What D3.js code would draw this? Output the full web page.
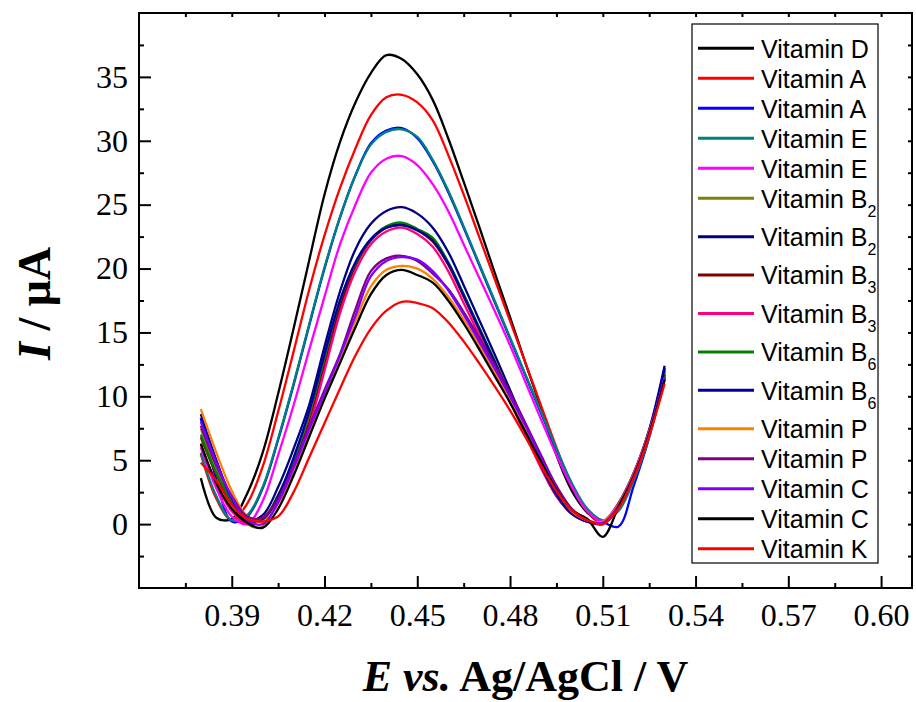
<!DOCTYPE html>
<html>
<head>
<meta charset="utf-8">
<script src="https://cdn.jsdelivr.net/npm/d3@7"></script>
<style>
  html, body { margin: 0; padding: 0; background: #fff; }
  svg { display: block; }
</style>
</head>
<body>
<div id="chart"></div>
<script>
// Potential axis (V vs. Ag/AgCl) sampled every 5 mV
const potentials = [0.380,0.385,0.390,0.395,0.400,0.405,0.410,0.415,0.420,0.425,0.430,0.435,0.440,0.445,0.450,0.455,0.460,0.465,0.470,0.475,0.480,0.485,0.490,0.495,0.500,0.505,0.510,0.515,0.520,0.525,0.530];

// Current (µA) for each voltammogram
const vitD   = [3.6,0.5,0.4,2.4,5.6,10.2,15.3,20.6,25.8,29.9,33.0,35.3,36.7,36.4,35.2,33.2,30.2,26.8,23.3,19.7,16.2,12.6,9.1,5.4,2.6,0.9,0.1,1.5,3.9,7.2,12.0];
const vitA1  = [5.5,2.0,0.3,1.6,4.5,8.8,13.5,18.3,22.6,26.3,29.4,32.0,33.4,33.6,33.0,31.6,28.9,25.8,22.5,19.2,15.9,12.6,9.3,6.0,3.0,1.0,0.1,1.4,3.8,7.0,11.8];
const vitA2  = [8.3,3.5,0.2,0.6,2.8,6.6,10.9,15.5,20.0,24.0,27.3,29.8,30.8,31.0,30.2,28.4,26.0,23.2,20.3,17.4,14.5,11.6,8.7,5.8,3.1,1.1,0.2,-0.2,3.0,6.8,12.2];
const vitE1  = [5.6,2.2,0.3,0.7,2.9,6.7,11.0,15.6,20.1,24.0,27.3,29.7,30.7,30.9,30.3,28.5,26.1,23.3,20.4,17.5,14.6,11.7,8.8,5.9,3.2,1.2,0.3,1.0,3.4,6.8,11.6];
const vitE2  = [6.0,2.8,0.6,0.0,1.8,5.4,9.3,13.6,17.8,21.9,25.0,27.5,28.6,28.8,28.1,26.6,24.5,21.9,19.3,16.7,14.0,11.1,8.2,5.4,2.9,1.0,0.2,1.3,3.7,7.0,11.4];
const vitB2a = [7.5,4.3,1.8,0.0,-0.2,2.0,5.0,8.4,12.8,17.2,20.3,22.3,23.2,23.4,23.0,22.3,20.4,17.9,15.3,12.7,10.0,7.3,4.6,2.3,0.8,0.2,0.0,1.3,3.8,7.3,11.8];
const vitB2b = [8.6,5.0,2.0,0.3,0.7,2.9,5.9,9.3,13.9,18.2,21.5,23.5,24.5,24.8,24.3,23.2,21.3,18.7,16.0,13.3,10.5,7.7,4.9,2.5,0.9,0.2,0.1,1.6,4.0,7.4,12.4];
const vitB3a = [6.8,3.9,1.6,0.3,0.5,2.0,4.7,7.9,12.4,16.9,20.2,22.2,23.2,23.5,23.0,22.1,20.3,17.8,15.2,12.6,9.9,7.2,4.5,2.2,0.8,0.2,0.1,1.5,3.9,7.2,11.7];
const vitB3b = [6.2,3.2,1.0,0.0,0.5,1.8,4.4,7.6,12.0,16.5,19.8,21.9,22.9,23.2,22.7,21.7,19.8,17.3,14.8,12.2,9.6,7.0,4.4,2.2,0.8,0.2,0.2,1.6,4.0,7.3,11.5];
const vitB6a = [7.0,4.0,1.8,0.4,0.4,2.3,5.0,8.6,13.0,17.5,20.4,22.3,23.3,23.6,23.1,22.4,20.5,18.0,15.4,12.8,10.1,7.4,4.7,2.4,0.9,0.2,0.1,1.5,3.9,7.2,11.6];
const vitB6b = [8.3,4.9,2.0,0.3,0.3,2.2,5.2,8.8,13.3,17.5,20.5,22.3,23.2,23.4,23.0,22.2,20.4,17.9,15.3,12.7,10.0,7.3,4.6,2.3,0.8,0.2,0.1,1.4,3.8,7.2,12.2];
const vitPa  = [9.0,5.6,2.6,0.6,0.2,1.6,4.2,7.2,10.2,13.0,15.9,18.6,19.9,20.2,20.0,19.2,17.8,16.0,14.0,11.9,9.7,7.4,5.0,2.7,1.0,0.3,0.2,1.5,3.9,7.2,11.4];
const vitPb  = [7.7,4.6,2.2,0.6,0.5,2.0,4.6,7.6,10.5,13.3,16.8,19.8,20.8,21.0,20.6,19.6,18.4,16.6,14.6,12.5,10.3,7.9,5.4,3.0,1.2,0.3,0.0,1.4,3.8,7.1,11.4];
const vitCa  = [8.0,4.8,2.1,0.3,0.0,1.7,4.4,7.4,10.3,13.2,16.3,19.4,20.6,20.9,20.7,19.8,18.3,16.4,14.3,12.2,10.0,7.7,5.2,2.8,1.1,0.3,0.1,1.4,3.8,7.1,11.5];
const vitCb  = [6.3,3.2,1.2,0.1,-0.3,1.2,3.8,6.8,9.8,12.6,15.4,18.0,19.5,19.9,19.5,18.9,17.5,15.7,13.7,11.6,9.5,7.2,4.9,2.7,1.1,0.4,-1.0,1.3,3.7,7.0,11.3];
const vitK   = [4.8,3.4,1.5,0.4,0.2,0.6,2.5,5.2,7.9,10.6,13.2,15.3,16.7,17.4,17.3,16.9,15.8,14.3,12.6,10.8,8.9,6.8,4.6,2.6,1.1,0.3,0.0,1.2,3.6,6.9,11.0];

const seriesValues = [vitD, vitA1, vitA2, vitE1, vitE2, vitB2a, vitB2b, vitB3a, vitB3b, vitB6a, vitB6b, vitPa, vitPb, vitCa, vitCb, vitK];
const seriesNames  = ["Vitamin D","Vitamin A","Vitamin A","Vitamin E","Vitamin E","Vitamin B","Vitamin B","Vitamin B","Vitamin B","Vitamin B","Vitamin B","Vitamin P","Vitamin P","Vitamin C","Vitamin C","Vitamin K"];
const seriesSubs   = ["","","","","","2","2","3","3","6","6","","","","",""];
const seriesColors = ["#000000","#ff0000","#0000ff","#008080","#ff00ff","#808000","#000080","#800000","#ff0080","#008000","#0000a0","#ff8000","#800080","#8000ff","#000000","#ff0000"];

// Axis ticks
const xTicks = [0.39,0.42,0.45,0.48,0.51,0.54,0.57,0.60];
const xMinor = [0.375,0.405,0.435,0.465,0.495,0.525,0.555,0.585];
const yTicks = [0,5,10,15,20,25,30,35];
const yMinor = [-2.5,2.5,7.5,12.5,17.5,22.5,27.5,32.5,37.5];

const W = 916, H = 702;
const plot = { left: 139, right: 912, top: 13, bottom: 588 };

const svg = d3.select("#chart").append("svg")
  .attr("width", W).attr("height", H)
  .attr("viewBox", `0 0 ${W} ${H}`);

const x = d3.scaleLinear().domain([0.36, 0.61]).range([plot.left, plot.right]);
const y = d3.scaleLinear().domain([-5, 40]).range([plot.bottom, plot.top]);

svg.append("defs").append("clipPath").attr("id", "plotClip")
  .append("rect")
  .attr("x", plot.left).attr("y", plot.top)
  .attr("width", plot.right - plot.left).attr("height", plot.bottom - plot.top);

// Voltammograms
const line = d3.line()
  .x(d => x(d[0]))
  .y(d => y(d[1]))
  .curve(d3.curveCatmullRom.alpha(0.5));

const curves = svg.append("g").attr("clip-path", "url(#plotClip)");
seriesValues.forEach((vals, i) => {
  curves.append("path")
    .datum(potentials.map((p, k) => [p, vals[k]]))
    .attr("fill", "none")
    .attr("stroke", seriesColors[i])
    .attr("stroke-width", 2.3)
    .attr("stroke-linejoin", "round")
    .attr("d", line);
});

// Axes
const serif = "'Liberation Serif', 'Times New Roman', serif";
function styleAxis(g) {
  g.select(".domain").remove();
  g.selectAll(".tick line").attr("stroke", "#000").attr("stroke-width", 2);
  g.selectAll(".tick text").attr("fill", "#000")
    .style("font-family", serif).style("font-size", "32px");
}

svg.append("g")
  .attr("transform", `translate(0,${plot.bottom})`)
  .call(d3.axisBottom(x).tickValues(xTicks).tickFormat(d3.format(".2f"))
    .tickSizeInner(-12).tickSizeOuter(0).tickPadding(15))
  .call(styleAxis);

svg.append("g")
  .attr("transform", `translate(0,${plot.bottom})`)
  .call(d3.axisBottom(x).tickValues(xMinor).tickFormat("")
    .tickSizeInner(-5).tickSizeOuter(0))
  .call(styleAxis);

svg.append("g")
  .attr("transform", `translate(${plot.left},0)`)
  .call(d3.axisLeft(y).tickValues(yTicks).tickFormat(d3.format("d"))
    .tickSizeInner(-12).tickSizeOuter(0).tickPadding(11))
  .call(styleAxis);

svg.append("g")
  .attr("transform", `translate(${plot.left},0)`)
  .call(d3.axisLeft(y).tickValues(yMinor).tickFormat("")
    .tickSizeInner(-5).tickSizeOuter(0))
  .call(styleAxis);

// Mirror ticks on the top and right edges
svg.append("g")
  .attr("transform", `translate(0,${plot.top})`)
  .call(d3.axisTop(x).tickValues(xTicks.concat(xMinor)).tickFormat("")
    .tickSizeInner(-4).tickSizeOuter(0))
  .call(styleAxis);

svg.append("g")
  .attr("transform", `translate(${plot.right},0)`)
  .call(d3.axisRight(y).tickValues(yTicks.concat(yMinor)).tickFormat("")
    .tickSizeInner(-4).tickSizeOuter(0))
  .call(styleAxis);

// Frame
svg.append("rect")
  .attr("x", plot.left).attr("y", plot.top)
  .attr("width", plot.right - plot.left).attr("height", plot.bottom - plot.top)
  .attr("fill", "none").attr("stroke", "#000").attr("stroke-width", 2);

// Axis titles
const xTitle = svg.append("text")
  .attr("x", (plot.left + plot.right) / 2).attr("y", 691)
  .attr("text-anchor", "middle")
  .style("font-family", serif).style("font-size", "44px").style("font-weight", "bold")
  .attr("fill", "#000");
xTitle.append("tspan").style("font-style", "italic").text("E");
xTitle.append("tspan").style("font-style", "italic").text(" vs.");
xTitle.append("tspan").text(" Ag/AgCl / V");

const yTitle = svg.append("text")
  .attr("transform", `translate(50,${(plot.top + plot.bottom) / 2 + 3}) rotate(-90)`)
  .attr("text-anchor", "middle")
  .style("font-family", serif).style("font-size", "46px").style("font-weight", "bold")
  .attr("fill", "#000");
yTitle.append("tspan").style("font-style", "italic").text("I");
yTitle.append("tspan").text(" / μA");

// Legend
const legend = svg.append("g");
legend.append("rect")
  .attr("x", 692).attr("y", 24).attr("width", 186).attr("height", 539)
  .attr("fill", "#fff").attr("stroke", "#000").attr("stroke-width", 1.2);

let rowY = 48.3;
seriesNames.forEach((name, i) => {
  legend.append("line")
    .attr("x1", 698).attr("x2", 754).attr("y1", rowY).attr("y2", rowY)
    .attr("stroke", seriesColors[i]).attr("stroke-width", 3);
  const t = legend.append("text")
    .attr("x", 761).attr("y", rowY + 9.3)
    .style("font-family", "'Liberation Sans', Arial, sans-serif")
    .style("font-size", "25px").attr("fill", "#000")
    .text(name);
  if (seriesSubs[i]) {
    t.append("tspan").attr("dy", 9).style("font-size", "16px").text(seriesSubs[i]);
  }
  rowY += seriesSubs[i] ? 38.4 : 30;
});
</script>
</body>
</html>
